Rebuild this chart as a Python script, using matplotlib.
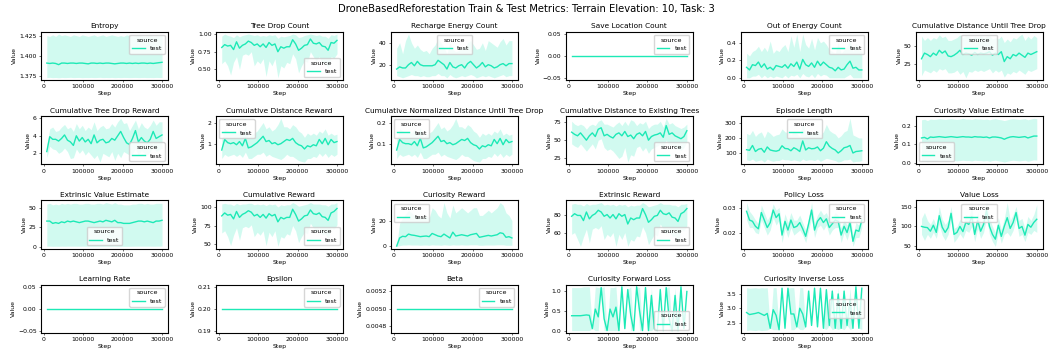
import matplotlib
matplotlib.use("Agg")
import matplotlib.pyplot as plt

# training steps at which the metrics were logged
STEPS = [7500, 15000, 22500, 30000, 37500, 45000, 52500, 60000, 67500, 75000,
         82500, 90000, 97500, 105000, 112500, 120000, 127500, 135000, 142500, 150000,
         157500, 165000, 172500, 180000, 187500, 195000, 202500, 210000, 217500, 225000,
         232500, 240000, 247500, 255000, 262500, 270000, 277500, 285000, 292500, 300000]

ENTROPY_MEAN = [1.391, 1.3905, 1.391, 1.3905, 1.389, 1.391, 1.391, 1.3905, 1.391, 1.391,
                1.3905, 1.391, 1.391, 1.3905, 1.390, 1.391, 1.391, 1.3905, 1.391, 1.3905,
                1.391, 1.391, 1.3905, 1.390, 1.3905, 1.391, 1.391, 1.3905, 1.391, 1.3905,
                1.391, 1.3905, 1.391, 1.391, 1.3905, 1.391, 1.3905, 1.391, 1.3915, 1.392]
ENTROPY_HI = [1.426, 1.425, 1.427, 1.425, 1.428, 1.426, 1.427, 1.426, 1.425, 1.427,
              1.426, 1.425, 1.427, 1.426, 1.425, 1.426, 1.427, 1.425, 1.426, 1.427,
              1.425, 1.426, 1.427, 1.426, 1.425, 1.426, 1.425, 1.427, 1.426, 1.425,
              1.426, 1.427, 1.426, 1.425, 1.426, 1.427, 1.425, 1.426, 1.426, 1.426]
ENTROPY_LO = [1.3725, 1.3728, 1.3724, 1.3726, 1.3722, 1.3727, 1.3725, 1.3726, 1.3728, 1.3725,
              1.3726, 1.3727, 1.3724, 1.3726, 1.3725, 1.3727, 1.3725, 1.3726, 1.3728, 1.3725,
              1.3726, 1.3725, 1.3727, 1.3724, 1.3726, 1.3725, 1.3727, 1.3726, 1.3725, 1.3726,
              1.3727, 1.3725, 1.3726, 1.3727, 1.3725, 1.3726, 1.3725, 1.3727, 1.3726, 1.3726]

TREE_DROP_MEAN = [0.81, 0.85, 0.83, 0.84, 0.78, 0.89, 0.80, 0.84, 0.86, 0.90,
                  0.88, 0.84, 0.86, 0.82, 0.86, 0.81, 0.88, 0.84, 0.86, 0.75,
                  0.82, 0.80, 0.82, 0.82, 0.92, 0.86, 0.77, 0.80, 0.84, 0.85,
                  0.93, 0.87, 0.86, 0.88, 0.83, 0.82, 0.77, 0.88, 0.87, 0.91]
TREE_DROP_HI = [0.97, 1.0, 0.98, 0.97, 0.95, 0.99, 0.96, 0.98, 0.99, 1.0,
                0.99, 0.98, 0.99, 0.97, 0.98, 0.97, 0.99, 0.98, 0.99, 0.94,
                0.97, 0.96, 0.97, 0.98, 1.0, 0.99, 0.95, 0.96, 0.98, 0.99,
                1.0, 0.99, 0.98, 0.99, 0.97, 0.97, 0.94, 0.99, 0.98, 1.0]
TREE_DROP_LO = [0.58, 0.62, 0.55, 0.42, 0.60, 0.68, 0.50, 0.70, 0.72, 0.70,
                0.75, 0.55, 0.62, 0.58, 0.65, 0.40, 0.62, 0.55, 0.65, 0.38,
                0.55, 0.52, 0.60, 0.58, 0.72, 0.65, 0.45, 0.55, 0.62, 0.60,
                0.75, 0.68, 0.62, 0.68, 0.58, 0.60, 0.50, 0.68, 0.66, 0.72]

RECHARGE_MEAN = [16, 18, 17, 17, 20, 22, 19, 23, 20, 19, 19, 19, 19, 20, 24, 22, 20, 16, 22, 18,
                 17, 19, 20, 17, 21, 23, 20, 17, 19, 22, 18, 20, 19, 17, 18, 20, 21, 19, 21, 21]
RECHARGE_HI = [35, 40, 30, 42, 48, 40, 35, 38, 34, 32, 33, 30, 35, 38, 44, 40, 36, 30, 40, 34,
               32, 33, 36, 35, 40, 42, 38, 34, 35, 40, 33, 42, 40, 38, 36, 41, 44, 38, 42, 42]
RECHARGE_LO = [10, 9, 8, 9, 10, 11, 10, 10, 9, 10, 9, 9, 10, 10, 12, 10, 10, 8, 11, 9,
               8, 9, 10, 9, 10, 11, 10, 8, 9, 10, 9, 10, 9, 8, 9, 10, 11, 9, 10, 10]

SAVE_LOCATION = [0, 0, 0, 0, 0, 0, 0, 0, 0, 0, 0, 0, 0, 0, 0, 0, 0, 0, 0, 0,
                 0, 0, 0, 0, 0, 0, 0, 0, 0, 0, 0, 0, 0, 0, 0, 0, 0, 0, 0, 0]

OUT_OF_ENERGY_MEAN = [0.12, 0.09, 0.15, 0.14, 0.18, 0.12, 0.16, 0.10, 0.12, 0.09,
                      0.14, 0.13, 0.12, 0.15, 0.11, 0.16, 0.13, 0.18, 0.10, 0.21,
                      0.15, 0.13, 0.17, 0.12, 0.19, 0.14, 0.18, 0.15, 0.12, 0.11,
                      0.08, 0.12, 0.09, 0.10, 0.15, 0.19, 0.11, 0.12, 0.09, 0.09]
OUT_OF_ENERGY_HI = [0.28, 0.25, 0.30, 0.32, 0.36, 0.30, 0.35, 0.30, 0.42, 0.28,
                    0.32, 0.30, 0.35, 0.38, 0.30, 0.48, 0.35, 0.50, 0.30, 0.50,
                    0.38, 0.34, 0.45, 0.32, 0.46, 0.40, 0.42, 0.38, 0.32, 0.30,
                    0.28, 0.40, 0.28, 0.32, 0.36, 0.44, 0.30, 0.40, 0.32, 0.30]
OUT_OF_ENERGY_LO = [0.0, 0.0, 0.02, 0.02, 0.04, 0.0, 0.03, 0.0, 0.02, 0.0,
                    0.02, 0.01, 0.0, 0.03, 0.0, 0.03, 0.02, 0.04, 0.0, 0.05,
                    0.02, 0.01, 0.04, 0.0, 0.05, 0.02, 0.04, 0.03, 0.0, 0.0,
                    0.0, 0.0, 0.0, 0.0, 0.02, 0.04, 0.0, 0.0, 0.0, 0.0]

DIST_UNTIL_DROP_MEAN = [32, 40, 38, 35, 40, 37, 44, 40, 43, 36, 35, 37, 40, 44, 38, 40, 39, 37, 41, 38,
                        40, 39, 40, 42, 37, 40, 38, 42, 28, 35, 32, 38, 36, 40, 37, 34, 40, 38, 40, 42]
DIST_UNTIL_DROP_HI = [64, 58, 62, 58, 62, 60, 66, 62, 64, 58, 58, 60, 62, 66, 62, 65, 64, 60, 64, 62,
                      65, 62, 64, 65, 60, 62, 60, 64, 55, 60, 56, 62, 60, 64, 67, 58, 64, 60, 65, 62]
DIST_UNTIL_DROP_LO = [8, 16, 14, 12, 16, 13, 18, 16, 18, 12, 12, 13, 16, 10, 14, 5, 14, 13, 16, 14,
                      16, 14, 16, 18, 12, 16, 13, 16, 6, 12, 10, 14, 12, 16, 13, 10, 16, 14, 16, 18]

TREE_DROP_REWARD_MEAN = [2.2, 3.9, 3.6, 3.6, 3.4, 3.7, 4.1, 3.5, 3.3, 2.9,
                         4.0, 3.4, 3.8, 3.3, 3.6, 3.1, 4.1, 3.2, 3.5, 3.6,
                         3.2, 3.3, 3.7, 3.5, 4.0, 4.5, 3.8, 3.2, 3.0, 3.7,
                         4.6, 3.3, 3.8, 3.4, 3.2, 3.6, 4.5, 3.7, 3.9, 4.1]
TREE_DROP_REWARD_HI = [3.0, 4.8, 5.0, 4.5, 4.6, 5.0, 5.3, 4.8, 5.0, 4.5,
                       5.4, 4.8, 5.2, 4.6, 5.0, 4.7, 5.6, 4.6, 5.0, 5.2,
                       4.8, 4.9, 5.4, 5.0, 5.6, 6.0, 5.4, 5.5, 4.6, 5.2,
                       5.8, 4.8, 5.5, 5.0, 4.8, 5.2, 5.8, 5.2, 5.6, 5.6]
TREE_DROP_REWARD_LO = [1.5, 2.8, 2.5, 2.4, 2.0, 2.2, 2.6, 2.2, 1.4, 1.5,
                       2.5, 2.0, 2.4, 1.8, 2.2, 1.8, 1.4, 1.8, 1.0, 2.0,
                       1.8, 1.6, 2.2, 1.2, 2.0, 1.5, 2.2, 2.0, 1.8, 2.0,
                       2.5, 1.8, 2.3, 2.0, 1.8, 2.2, 2.8, 2.2, 2.4, 2.6]

DIST_REWARD_MEAN = [0.7, 1.2, 1.05, 1.0, 1.05, 0.95, 1.1, 0.9, 1.25, 0.8,
                    0.85, 0.95, 1.05, 1.2, 1.35, 1.1, 1.15, 1.0, 1.05, 0.95,
                    1.0, 1.1, 1.2, 1.15, 1.25, 1.05, 0.95, 0.9, 0.75, 0.9,
                    0.85, 0.95, 0.9, 1.2, 1.0, 1.25, 0.95, 1.2, 1.05, 1.1]
DIST_REWARD_HI = [1.2, 1.7, 1.6, 1.5, 1.6, 1.5, 1.7, 1.4, 1.8, 1.3,
                  1.4, 1.5, 1.6, 1.8, 2.0, 1.7, 1.8, 1.6, 1.7, 1.9,
                  2.2, 1.8, 1.8, 1.7, 1.9, 1.8, 1.6, 1.5, 1.3, 1.5,
                  1.4, 1.5, 1.4, 1.6, 1.5, 1.7, 1.4, 1.5, 1.4, 1.45]
DIST_REWARD_LO = [0.3, 0.5, 0.4, 0.45, 0.5, 0.4, 0.5, 0.35, 0.6, 0.3,
                  0.3, 0.4, 0.5, 0.5, 0.6, 0.4, 0.5, 0.4, 0.35, 0.3,
                  0.25, 0.35, 0.5, 0.4, 0.4, 0.3, 0.2, 0.16, 0.13, 0.3,
                  0.3, 0.4, 0.35, 0.55, 0.4, 0.55, 0.35, 0.5, 0.4, 0.5]

NORM_DIST_MEAN = [0.07, 0.12, 0.105, 0.10, 0.10, 0.095, 0.11, 0.09, 0.125, 0.08,
                  0.085, 0.095, 0.105, 0.12, 0.135, 0.11, 0.115, 0.10, 0.105, 0.095,
                  0.10, 0.11, 0.12, 0.115, 0.125, 0.105, 0.095, 0.09, 0.075, 0.09,
                  0.085, 0.095, 0.09, 0.12, 0.10, 0.125, 0.095, 0.12, 0.105, 0.11]
NORM_DIST_HI = [0.12, 0.17, 0.16, 0.15, 0.16, 0.15, 0.17, 0.14, 0.18, 0.13,
                0.14, 0.15, 0.16, 0.18, 0.20, 0.17, 0.18, 0.16, 0.17, 0.19,
                0.22, 0.18, 0.18, 0.17, 0.19, 0.18, 0.16, 0.15, 0.13, 0.15,
                0.14, 0.15, 0.14, 0.16, 0.15, 0.17, 0.14, 0.15, 0.14, 0.145]
NORM_DIST_LO = [0.03, 0.05, 0.04, 0.045, 0.05, 0.04, 0.05, 0.035, 0.06, 0.03,
                0.03, 0.04, 0.05, 0.05, 0.06, 0.04, 0.05, 0.04, 0.035, 0.03,
                0.025, 0.035, 0.05, 0.04, 0.04, 0.03, 0.02, 0.016, 0.013, 0.03,
                0.03, 0.04, 0.035, 0.055, 0.04, 0.055, 0.035, 0.05, 0.04, 0.05]

DIST_TREES_MEAN = [61, 58, 56, 60, 55, 50, 56, 60, 55, 65, 67, 56, 58, 55, 53, 58, 60, 56, 62, 55,
                   57, 52, 58, 60, 56, 62, 50, 55, 57, 58, 60, 54, 70, 58, 60, 56, 54, 52, 55, 63]
DIST_TREES_HI = [76, 72, 70, 72, 70, 65, 70, 72, 70, 76, 78, 72, 72, 70, 68, 72, 75, 70, 76, 70,
                 78, 76, 70, 74, 72, 76, 66, 70, 72, 72, 76, 68, 80, 72, 74, 70, 68, 66, 68, 72]
DIST_TREES_LO = [45, 42, 40, 45, 40, 35, 40, 45, 38, 50, 52, 40, 36, 38, 35, 30, 25, 28, 40, 20,
                 30, 28, 40, 42, 35, 40, 32, 38, 40, 42, 45, 38, 50, 42, 44, 40, 38, 36, 40, 48]

EPISODE_LEN_MEAN = [122, 118, 150, 110, 125, 130, 105, 140, 120, 115, 112, 118, 148, 130, 128, 115, 135, 125, 110, 180,
                    120, 135, 128, 130, 140, 115, 132, 175, 145, 130, 120, 100, 115, 135, 140, 150, 100, 110, 112, 115]
EPISODE_LEN_HI = [230, 220, 250, 210, 230, 240, 200, 245, 230, 210, 220, 225, 260, 240, 235, 220, 245, 230, 210, 300,
                  225, 250, 235, 240, 250, 220, 240, 290, 250, 235, 225, 200, 215, 240, 250, 330, 220, 210, 200, 200]
EPISODE_LEN_LO = [55, 50, 60, 45, 50, 55, 40, 60, 50, 45, 50, 50, 60, 55, 55, 50, 55, 50, 45, 60,
                  50, 55, 55, 50, 60, 45, 55, 65, 60, 55, 50, 40, 45, 55, 55, 60, 40, 45, 45, 50]

CUR_VALUE_MEAN = [0.135, 0.138, 0.13, 0.14, 0.138, 0.14, 0.142, 0.14, 0.138, 0.14,
                  0.142, 0.14, 0.138, 0.14, 0.142, 0.14, 0.14, 0.138, 0.142, 0.14,
                  0.14, 0.138, 0.14, 0.135, 0.14, 0.14, 0.138, 0.135, 0.128, 0.135,
                  0.14, 0.142, 0.14, 0.138, 0.14, 0.142, 0.135, 0.14, 0.145, 0.145]
CUR_VALUE_HI = [0.232, 0.235, 0.228, 0.236, 0.234, 0.235, 0.238, 0.236, 0.234, 0.236,
                0.238, 0.236, 0.234, 0.236, 0.24, 0.236, 0.236, 0.234, 0.238, 0.236,
                0.236, 0.234, 0.236, 0.232, 0.236, 0.238, 0.234, 0.232, 0.228, 0.232,
                0.236, 0.238, 0.236, 0.234, 0.236, 0.238, 0.232, 0.236, 0.24, 0.238]
CUR_VALUE_LO = [0.01, 0.012, 0.008, 0.014, 0.012, 0.014, 0.016, 0.014, 0.012, 0.014,
                0.016, 0.014, 0.012, 0.014, 0.016, 0.014, 0.014, 0.012, 0.016, 0.014,
                0.014, 0.012, 0.014, 0.01, 0.014, 0.016, 0.012, 0.01, 0.006, 0.01,
                0.014, 0.016, 0.014, 0.012, 0.014, 0.016, 0.01, 0.014, 0.018, 0.016]

EXT_VALUE_MEAN = [33, 33, 30, 31, 30, 32, 31, 33, 32, 33, 32, 31, 32, 33, 33, 32, 31, 32, 33, 32,
                  34, 33, 32, 34, 31, 31, 30, 30, 30, 31, 32, 33, 33, 32, 33, 32, 31, 33, 33, 34]
EXT_VALUE_HI = [55, 56, 54, 55, 54, 56, 55, 56, 55, 56, 56, 55, 55, 56, 56, 55, 55, 56, 56, 55,
                57, 56, 55, 57, 55, 55, 54, 54, 54, 55, 55, 56, 56, 55, 56, 55, 55, 56, 56, 56]
EXT_VALUE_LO = [0.5, 0.5, 0.3, 0.4, 0.3, 0.5, 0.4, 0.5, 0.5, 0.5, 0.5, 0.4, 0.5, 0.5, 0.5, 0.5, 0.4, 0.5, 0.5, 0.5,
                0.6, 0.5, 0.5, 0.6, 0.4, 0.4, 0.3, 0.3, 0.3, 0.4, 0.5, 0.5, 0.5, 0.5, 0.5, 0.5, 0.4, 0.5, 0.5, 0.6]

CUM_REWARD_MEAN = [88, 92, 89, 90, 84, 94, 86, 90, 92, 95, 93, 88, 90, 86, 90, 85, 91, 88, 90, 80,
                   86, 84, 86, 86, 97, 90, 81, 84, 88, 89, 96, 91, 90, 92, 87, 86, 82, 92, 94, 98]
CUM_REWARD_HI = [104, 105, 104, 104, 102, 105, 103, 104, 104, 105, 105, 103, 104, 103, 104, 102, 104, 103, 104, 100,
                 103, 102, 103, 103, 106, 104, 101, 102, 103, 104, 106, 104, 104, 104, 103, 103, 101, 104, 104, 106]
CUM_REWARD_LO = [65, 68, 60, 48, 62, 72, 55, 72, 74, 72, 76, 60, 66, 62, 68, 48, 66, 60, 68, 47,
                 60, 58, 64, 62, 75, 68, 52, 60, 66, 64, 78, 72, 66, 72, 62, 64, 56, 72, 70, 76]

CUR_REWARD_MEAN = [0.2, 6.5, 7.8, 7.5, 9.5, 8.8, 8.5, 8.0, 7.5, 7.8, 8.0, 7.5, 10.0, 9.0, 8.0, 7.5, 9.5, 8.0, 6.5, 11.0,
                   8.0, 8.5, 9.0, 8.5, 8.0, 9.0, 9.5, 10.0, 7.0, 7.5, 8.0, 8.5, 8.0, 8.5, 9.0, 10.5, 10.0, 7.0, 7.5, 6.5]
CUR_REWARD_HI = [1.0, 18, 22, 25, 28, 26, 24, 24, 22, 22, 24, 22, 30, 28, 24, 22, 34, 26, 22, 32,
                 26, 28, 30, 28, 26, 28, 30, 30, 24, 24, 26, 28, 26, 28, 30, 34, 32, 26, 24, 20]
CUR_REWARD_LO = [0.0, 0.5, 1.0, 1.0, 1.2, 1.0, 1.0, 1.0, 0.8, 1.0, 1.0, 0.8, 1.2, 1.0, 1.0, 0.8, 1.2, 1.0, 0.8, 1.2,
                 1.0, 1.0, 1.2, 1.0, 1.0, 1.2, 1.2, 1.2, 0.8, 0.8, 1.0, 1.0, 1.0, 1.0, 1.2, 1.2, 1.2, 0.8, 0.8, 0.8]

EXT_REWARD_MEAN = [79, 82, 80, 80, 74, 84, 76, 80, 82, 86, 84, 79, 81, 77, 81, 76, 82, 79, 81, 70,
                   77, 75, 77, 77, 88, 81, 72, 75, 79, 80, 86, 82, 81, 83, 78, 77, 73, 82, 84, 88]
EXT_REWARD_HI = [93, 94, 93, 93, 91, 94, 92, 93, 93, 94, 95, 92, 93, 92, 93, 91, 93, 92, 93, 90,
                 92, 91, 92, 92, 95, 93, 90, 91, 92, 93, 95, 93, 93, 93, 92, 92, 90, 93, 93, 94]
EXT_REWARD_LO = [58, 60, 52, 44, 55, 64, 48, 64, 66, 64, 68, 52, 58, 55, 60, 44, 58, 52, 60, 44,
                 52, 50, 56, 55, 67, 60, 46, 52, 58, 56, 70, 64, 58, 64, 55, 56, 48, 64, 62, 68]

POLICY_LOSS_MEAN = [0.0285, 0.025, 0.0245, 0.0225, 0.0215, 0.028, 0.025, 0.022, 0.024, 0.029,
                    0.026, 0.0275, 0.019, 0.0245, 0.021, 0.025, 0.022, 0.0225, 0.024, 0.0215,
                    0.0185, 0.0235, 0.029, 0.021, 0.0245, 0.026, 0.024, 0.0255, 0.022, 0.0235,
                    0.025, 0.0245, 0.019, 0.0225, 0.020, 0.024, 0.0165, 0.021, 0.0205, 0.025]
POLICY_LOSS_HI = [0.032, 0.0285, 0.027, 0.025, 0.0235, 0.031, 0.028, 0.025, 0.027, 0.0315,
                  0.029, 0.030, 0.022, 0.0275, 0.024, 0.028, 0.025, 0.025, 0.027, 0.024,
                  0.021, 0.026, 0.032, 0.024, 0.027, 0.029, 0.027, 0.028, 0.025, 0.026,
                  0.028, 0.027, 0.022, 0.025, 0.023, 0.027, 0.019, 0.024, 0.023, 0.028]
POLICY_LOSS_LO = [0.025, 0.022, 0.022, 0.020, 0.0195, 0.025, 0.022, 0.019, 0.021, 0.026,
                  0.023, 0.025, 0.016, 0.0215, 0.018, 0.022, 0.019, 0.020, 0.021, 0.019,
                  0.016, 0.021, 0.026, 0.018, 0.022, 0.023, 0.021, 0.023, 0.019, 0.021,
                  0.022, 0.022, 0.016, 0.020, 0.017, 0.021, 0.0145, 0.018, 0.018, 0.022]

VALUE_LOSS_MEAN = [100, 98, 97, 88, 103, 85, 127, 98, 85, 97, 133, 80, 85, 100, 87, 110, 105, 125, 80, 115,
                   88, 105, 140, 100, 80, 68, 103, 75, 100, 122, 95, 110, 135, 95, 100, 78, 105, 98, 110, 118]
VALUE_LOSS_HI = [120, 135, 115, 105, 120, 100, 150, 118, 105, 115, 150, 95, 100, 118, 105, 130, 125, 148, 98, 135,
                 105, 125, 160, 120, 100, 85, 122, 92, 120, 160, 115, 130, 150, 115, 120, 95, 125, 115, 130, 155]
VALUE_LOSS_LO = [80, 65, 80, 70, 85, 70, 105, 78, 65, 80, 115, 60, 70, 82, 70, 90, 85, 100, 62, 95,
                 70, 85, 120, 80, 62, 50, 85, 58, 80, 85, 75, 90, 118, 75, 80, 62, 85, 80, 90, 85]

LEARNING_RATE = [0, 0, 0, 0, 0, 0, 0, 0, 0, 0, 0, 0, 0, 0, 0, 0, 0, 0, 0, 0,
                 0, 0, 0, 0, 0, 0, 0, 0, 0, 0, 0, 0, 0, 0, 0, 0, 0, 0, 0, 0]
EPSILON = [0.2, 0.2, 0.2, 0.2, 0.2, 0.2, 0.2, 0.2, 0.2, 0.2, 0.2, 0.2, 0.2, 0.2, 0.2, 0.2, 0.2, 0.2, 0.2, 0.2,
           0.2, 0.2, 0.2, 0.2, 0.2, 0.2, 0.2, 0.2, 0.2, 0.2, 0.2, 0.2, 0.2, 0.2, 0.2, 0.2, 0.2, 0.2, 0.2, 0.2]
BETA = [0.005, 0.005, 0.005, 0.005, 0.005, 0.005, 0.005, 0.005, 0.005, 0.005,
        0.005, 0.005, 0.005, 0.005, 0.005, 0.005, 0.005, 0.005, 0.005, 0.005,
        0.005, 0.005, 0.005, 0.005, 0.005, 0.005, 0.005, 0.005, 0.005, 0.005,
        0.005, 0.005, 0.005, 0.005, 0.005, 0.005, 0.005, 0.005, 0.005, 0.005]

FWD_LOSS_MEAN = [0.38, 0.38, 0.38, 0.38, 0.39, 0.40, 0.39, 0.05, 0.55, 0.35,
                 1.1, 0.3, 0.0, 0.55, 0.35, 0.6, 0.0, 1.12, 0.05, 1.05,
                 0.4, 0.0, 1.12, 0.5, 0.0, 1.1, 0.0, 0.9, 0.05, 0.0,
                 1.05, 0.0, 1.1, 0.3, 0.0, 0.9, 0.0, 1.12, 0.05, 1.0]
FWD_LOSS_HI = [1.1, 1.1, 1.1, 1.1, 1.12, 1.12, 1.12, 0.05, 1.12, 1.1,
               1.1, 1.12, 0.0, 1.1, 1.1, 1.12, 0.0, 1.12, 0.05, 1.05,
               1.12, 0.0, 1.12, 1.1, 0.0, 1.1, 0.0, 1.1, 0.05, 0.0,
               1.05, 0.0, 1.1, 1.12, 0.0, 1.1, 0.0, 1.12, 0.05, 1.0]
FWD_LOSS_LO = [0.0, 0.0, 0.0, 0.0, 0.0, 0.0, 0.0, 0.05, 0.0, 0.0,
               1.1, 0.0, 0.0, 0.0, 0.0, 0.0, 0.0, 1.12, 0.05, 1.05,
               0.0, 0.0, 1.12, 0.0, 0.0, 1.1, 0.0, 0.0, 0.05, 0.0,
               1.05, 0.0, 1.1, 0.0, 0.0, 0.0, 0.0, 1.12, 0.05, 1.0]

INV_LOSS_MEAN = [2.85, 2.78, 2.80, 2.82, 2.85, 2.80, 2.75, 2.82, 2.30, 2.95,
                 2.75, 2.25, 3.70, 2.30, 3.70, 2.80, 2.80, 2.35, 3.00, 2.80,
                 2.35, 3.60, 2.40, 3.70, 2.35, 3.70, 2.30, 3.65, 2.40, 3.60,
                 2.30, 3.50, 2.30, 3.60, 2.40, 3.30, 2.30, 3.75, 2.30, 3.70]
INV_LOSS_HI = [3.72, 3.70, 3.71, 3.72, 3.70, 3.72, 3.71, 3.72, 2.30, 3.72,
               3.72, 2.25, 3.70, 2.30, 3.70, 3.72, 3.72, 2.35, 3.72, 3.72,
               2.35, 3.72, 2.40, 3.70, 2.35, 3.70, 2.30, 3.72, 2.40, 3.72,
               2.30, 3.72, 2.30, 3.72, 2.40, 3.72, 2.30, 3.75, 2.30, 3.72]
INV_LOSS_LO = [2.22, 2.24, 2.23, 2.22, 2.24, 2.22, 2.23, 2.24, 2.30, 2.25,
               2.25, 2.25, 3.70, 2.30, 3.70, 2.25, 2.25, 2.35, 2.26, 2.25,
               2.35, 3.60, 2.40, 3.70, 2.35, 3.70, 2.30, 2.26, 2.40, 2.25,
               2.30, 2.26, 2.30, 2.25, 2.40, 2.26, 2.30, 3.75, 2.30, 2.26]

TITLES = ["Entropy", "Tree Drop Count", "Recharge Energy Count", "Save Location Count",
          "Out of Energy Count", "Cumulative Distance Until Tree Drop",
          "Cumulative Tree Drop Reward", "Cumulative Distance Reward",
          "Cumulative Normalized Distance Until Tree Drop", "Cumulative Distance to Existing Trees",
          "Episode Length", "Curiosity Value Estimate",
          "Extrinsic Value Estimate", "Cumulative Reward", "Curiosity Reward", "Extrinsic Reward",
          "Policy Loss", "Value Loss",
          "Learning Rate", "Epsilon", "Beta", "Curiosity Forward Loss", "Curiosity Inverse Loss"]

series = [
    (ENTROPY_MEAN, ENTROPY_LO, ENTROPY_HI),
    (TREE_DROP_MEAN, TREE_DROP_LO, TREE_DROP_HI),
    (RECHARGE_MEAN, RECHARGE_LO, RECHARGE_HI),
    (SAVE_LOCATION, SAVE_LOCATION, SAVE_LOCATION),
    (OUT_OF_ENERGY_MEAN, OUT_OF_ENERGY_LO, OUT_OF_ENERGY_HI),
    (DIST_UNTIL_DROP_MEAN, DIST_UNTIL_DROP_LO, DIST_UNTIL_DROP_HI),
    (TREE_DROP_REWARD_MEAN, TREE_DROP_REWARD_LO, TREE_DROP_REWARD_HI),
    (DIST_REWARD_MEAN, DIST_REWARD_LO, DIST_REWARD_HI),
    (NORM_DIST_MEAN, NORM_DIST_LO, NORM_DIST_HI),
    (DIST_TREES_MEAN, DIST_TREES_LO, DIST_TREES_HI),
    (EPISODE_LEN_MEAN, EPISODE_LEN_LO, EPISODE_LEN_HI),
    (CUR_VALUE_MEAN, CUR_VALUE_LO, CUR_VALUE_HI),
    (EXT_VALUE_MEAN, EXT_VALUE_LO, EXT_VALUE_HI),
    (CUM_REWARD_MEAN, CUM_REWARD_LO, CUM_REWARD_HI),
    (CUR_REWARD_MEAN, CUR_REWARD_LO, CUR_REWARD_HI),
    (EXT_REWARD_MEAN, EXT_REWARD_LO, EXT_REWARD_HI),
    (POLICY_LOSS_MEAN, POLICY_LOSS_LO, POLICY_LOSS_HI),
    (VALUE_LOSS_MEAN, VALUE_LOSS_LO, VALUE_LOSS_HI),
    (LEARNING_RATE, LEARNING_RATE, LEARNING_RATE),
    (EPSILON, EPSILON, EPSILON),
    (BETA, BETA, BETA),
    (FWD_LOSS_MEAN, FWD_LOSS_LO, FWD_LOSS_HI),
    (INV_LOSS_MEAN, INV_LOSS_LO, INV_LOSS_HI),
]

# where matplotlib's "best" put each legend in the original
legend_locs = ["upper right", "lower right", "upper center", "upper right", "upper right", "upper center",
               "lower right", "upper left", "upper left", "lower right", "upper center", "lower left",
               "lower center", "lower right", "upper left", "lower right", "upper right", "upper center",
               "upper right", "upper right", "upper right", "lower right", "center right"]

color = '#1de9b6'

fig, axes = plt.subplots(4, 6, figsize=(10.52, 3.54), dpi=100)
fig.subplots_adjust(left=0.039, right=0.991, top=0.91, bottom=0.06, wspace=0.38, hspace=0.75)

for i, ax in enumerate(axes.flat):
    if i >= len(TITLES):
        ax.axis('off')
        continue
    mean, lo, hi = series[i]
    ax.fill_between(STEPS, lo, hi, color=color, alpha=0.2, linewidth=0)
    ax.plot(STEPS, mean, color=color, linewidth=1.0, label='test')
    ax.set_title(TITLES[i], fontsize=5.3, pad=2.5)
    ax.set_xlabel('Step', fontsize=4.4, labelpad=1.5)
    ax.set_ylabel('Value', fontsize=4.4, labelpad=1.5)
    ax.tick_params(labelsize=4.4, length=1.6, width=0.4, pad=1.5)
    for sp in ax.spines.values():
        sp.set_linewidth(0.8)
    ax.legend(title='source', loc=legend_locs[i], fontsize=4.6, title_fontsize=4.6,
              handlelength=2.0, borderpad=0.4, labelspacing=0.5)

fig.suptitle('DroneBasedReforestation Train & Test Metrics: Terrain Elevation: 10, Task: 3',
             fontsize=7.2, y=0.988)

plt.savefig('out.png', dpi=100)
plt.close()
